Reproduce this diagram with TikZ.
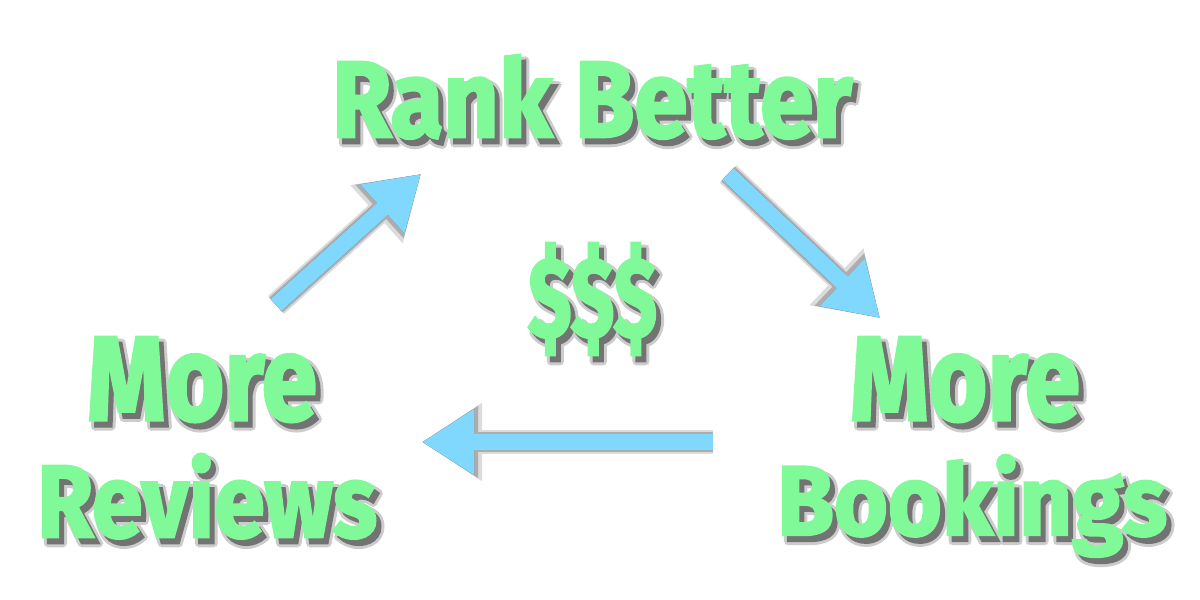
\documentclass[tikz,border=0pt]{standalone}
\usepackage{fontspec}
\usepackage{graphicx}
\newfontfamily\fat{Fira Sans}[BoldFeatures={FakeBold=2.5}]
\usetikzlibrary{arrows.meta}
\definecolor{txtgreen}{HTML}{80FA98}
\definecolor{arrblue}{HTML}{80D8FF}
\tikzset{
  lbl/.style={inner sep=0pt, outer sep=0pt, text=txtgreen},
  shd/.style={inner sep=0pt, outer sep=0pt},
  arr/.style={draw=arrblue, line width=0.16cm, line cap=butt,
    -{Triangle[length=0.52cm,width=0.62cm,fill=arrblue]}},
  arrshA/.style={draw=black!14, line width=0.24cm, xshift=0.05cm, yshift=-0.06cm,
    -{Triangle[length=0.60cm,width=0.74cm,fill=black!14]}},
  arrshB/.style={draw=black!32, line width=0.20cm, xshift=0.05cm, yshift=-0.06cm,
    -{Triangle[length=0.56cm,width=0.68cm,fill=black!32]}},
  arrshC/.style={draw=black!58, line width=0.16cm, xshift=0.05cm, yshift=-0.06cm,
    -{Triangle[length=0.52cm,width=0.62cm,fill=black!58]}},
}
% #1 name, #2 anchor, #3 position, #4 width, #5 total height, #6 text
\newcommand\shtext[6]{%
  \foreach \dx/\dy [count=\i] in {0.03/0,-0.03/0,0/0.03,0/-0.03,0.021/0.021,0.021/-0.021,-0.021/0.021,-0.021/-0.021}{%
    \node[shd, anchor=#2, text=black!20, xshift=0.05cm+\dx cm, yshift=-0.06cm+\dy cm] (#1r\i) at (#3)
      {\resizebox*{#4}{#5}{\fat\bfseries #6}};
  }%
  \node[shd, anchor=#2, text=black!55, xshift=0.05cm, yshift=-0.06cm] (#1s) at (#3)
    {\resizebox*{#4}{#5}{\fat\bfseries #6}};
  \node[lbl, anchor=#2] (#1) at (#3) {\resizebox*{#4}{#5}{\fat\bfseries #6}};
}
\begin{document}
\begin{tikzpicture}
\fill[white] (0,0) rectangle (12,6);
\useasboundingbox (0,0) rectangle (12,6);

% arrow end points
\coordinate (a1s) at (2.76,2.95);
\coordinate (a1e) at (4.21,4.26);
\coordinate (a2s) at (7.28,4.26);
\coordinate (a2e) at (8.80,2.82);
\coordinate (a3s) at (7.13,1.58);
\coordinate (a3e) at (4.22,1.58);

% arrow shadows
\foreach \s/\e in {a1s/a1e,a2s/a2e,a3s/a3e}{
  \draw[arrshA] (\s) -- (\e);
  \draw[arrshB] (\s) -- (\e);
  \draw[arrshC] (\s) -- (\e);
}
% arrows
\draw[arr] (a1s) -- (a1e);
\draw[arr] (a2s) -- (a2e);
\draw[arr] (a3s) -- (a3e);

% texts
\shtext{rank}{base west}{3.32,4.63}{5.20cm}{0.84cm}{Rank Better}
\shtext{moreL}{base west}{0.87,1.80}{2.30cm}{0.85cm}{More}
\shtext{reviews}{base west}{0.37,0.63}{3.40cm}{0.85cm}{Reviews}
\shtext{moreR}{base west}{8.50,1.80}{2.30cm}{0.85cm}{More}
\shtext{bookings}{base west}{7.77,0.65}{3.90cm}{1.02cm}{Bookings}
\shtext{money}{south west}{5.28,2.45}{1.29cm}{1.12cm}{\$\$\$}
\end{tikzpicture}
\end{document}
